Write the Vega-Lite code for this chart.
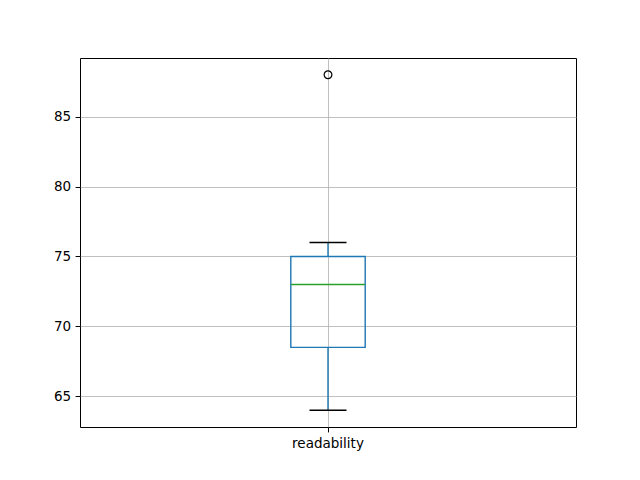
{
  "$schema": "https://vega.github.io/schema/vega-lite/v6.json",
  "width": 496,
  "height": 369,
  "autosize": {"type": "none"},
  "padding": {"left": 80, "top": 58, "right": 64, "bottom": 53},
  "background": "white",
  "config": {
    "font": "DejaVu Sans",
    "view": {"stroke": "black", "strokeWidth": 1},
    "axis": {
      "labelFont": "DejaVu Sans",
      "labelFontSize": 13.5,
      "labelColor": "black",
      "tickColor": "black",
      "tickSize": 4.9,
      "domain": false,
      "grid": true,
      "gridColor": "#b0b0b0",
      "gridWidth": 0.8,
      "labelPadding": 4.5,
      "title": null
    }
  },
  "datasets": {
    "stats": [{"variable": "readability", "q1": 68.5, "median": 73, "q3": 75, "lower": 64, "upper": 76}],
    "outliers": [{"variable": "readability", "value": 88}]
  },
  "layer": [
    {
      "data": {"name": "stats"},
      "mark": {"type": "rule", "color": "#1f77b4", "strokeWidth": 1.4},
      "encoding": {
        "x": {"field": "variable", "type": "nominal", "scale": {"paddingInner": 0, "paddingOuter": 0}, "axis": {"labelAngle": 0, "bandPosition": 0.5}},
        "y": {"field": "lower", "type": "quantitative", "scale": {"domain": [62.8, 89.2], "nice": false, "zero": false}, "axis": {"values": [65, 70, 75, 80, 85]}},
        "y2": {"field": "q1"}
      }
    },
    {
      "data": {"name": "stats"},
      "mark": {"type": "rule", "color": "#1f77b4", "strokeWidth": 1.4},
      "encoding": {
        "x": {"field": "variable", "type": "nominal"},
        "y": {"field": "q3", "type": "quantitative"},
        "y2": {"field": "upper"}
      }
    },
    {
      "data": {"name": "stats"},
      "mark": {"type": "bar", "fill": null, "fillOpacity": 0, "stroke": "#1f77b4", "strokeWidth": 1.4, "width": {"band": 0.15}},
      "encoding": {
        "x": {"field": "variable", "type": "nominal"},
        "y": {"field": "q1", "type": "quantitative"},
        "y2": {"field": "q3"}
      }
    },
    {
      "data": {"name": "stats"},
      "mark": {"type": "tick", "color": "#2ca02c", "size": 74, "thickness": 1.4, "opacity": 1},
      "encoding": {
        "x": {"field": "variable", "type": "nominal"},
        "y": {"field": "median", "type": "quantitative"}
      }
    },
    {
      "data": {"name": "stats"},
      "mark": {"type": "tick", "color": "black", "size": 37, "thickness": 1.4, "opacity": 1},
      "encoding": {
        "x": {"field": "variable", "type": "nominal"},
        "y": {"field": "lower", "type": "quantitative"}
      }
    },
    {
      "data": {"name": "stats"},
      "mark": {"type": "tick", "color": "black", "size": 37, "thickness": 1.4, "opacity": 1},
      "encoding": {
        "x": {"field": "variable", "type": "nominal"},
        "y": {"field": "upper", "type": "quantitative"}
      }
    },
    {
      "data": {"name": "outliers"},
      "mark": {"type": "point", "shape": "circle", "filled": false, "stroke": "black", "strokeWidth": 1.2, "size": 60, "opacity": 1},
      "encoding": {
        "x": {"field": "variable", "type": "nominal"},
        "y": {"field": "value", "type": "quantitative"}
      }
    }
  ]
}
